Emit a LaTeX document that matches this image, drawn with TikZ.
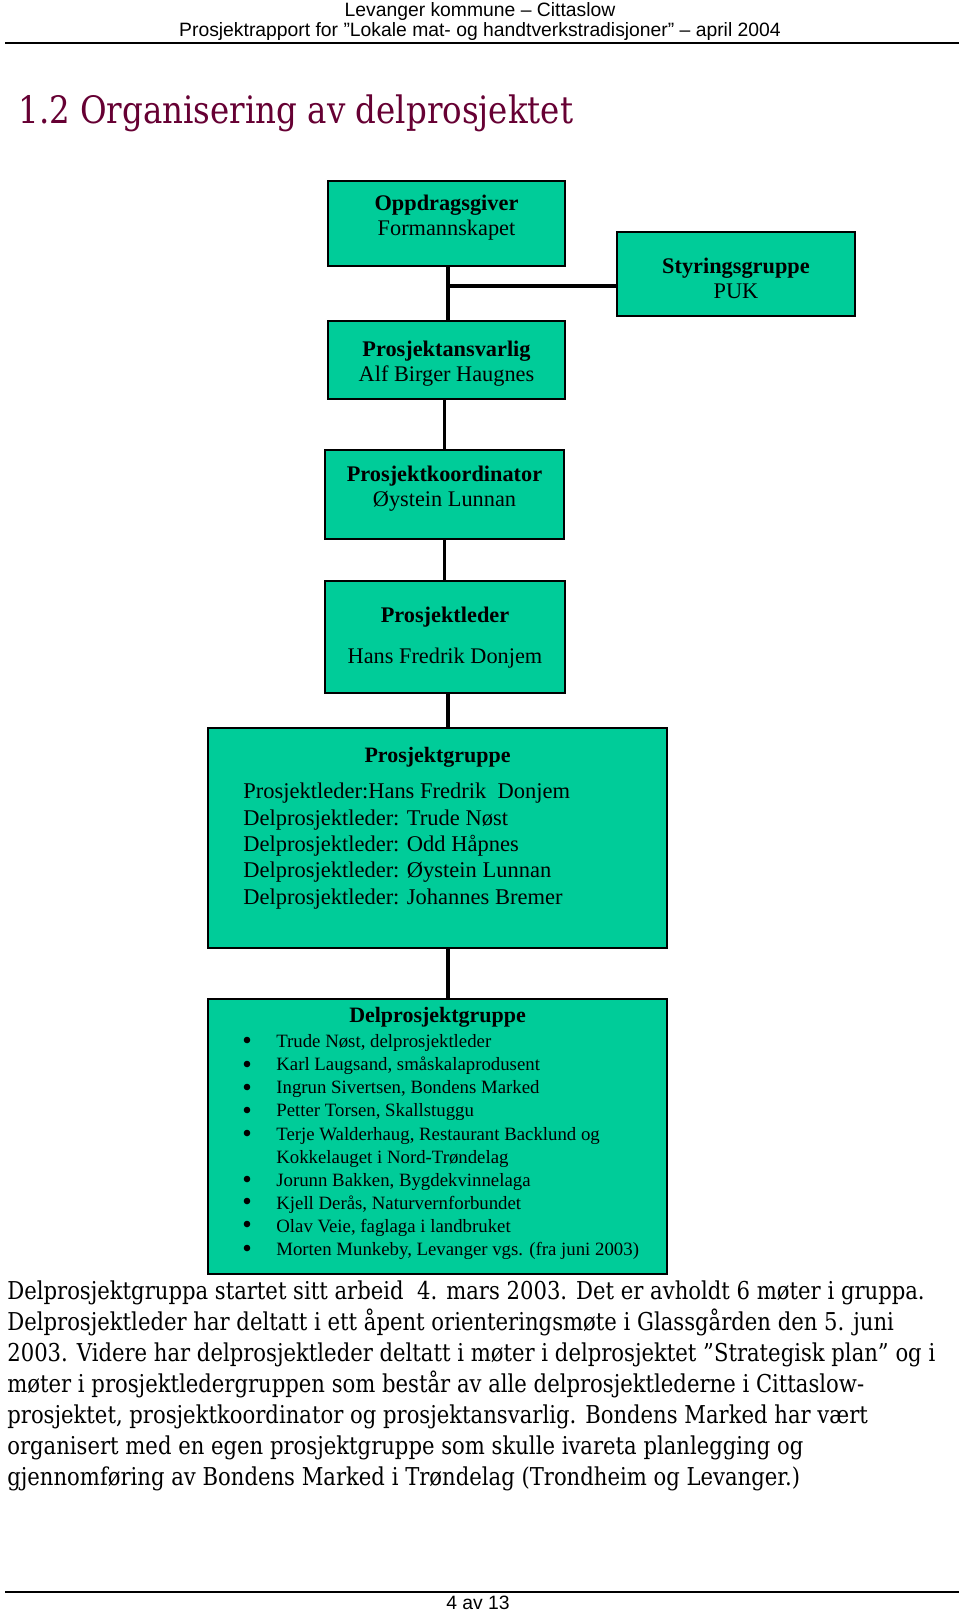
\documentclass[tikz,border=0pt]{standalone}
\usepackage{fontspec}
\setmainfont{Liberation Serif}
\newfontfamily\headfont{Liberation Sans}
\newfontfamily\bookfont[FakeStretch=0.86]{DejaVu Serif}
\usetikzlibrary{calc}
\definecolor{boxgreen}{RGB}{0,204,153}
\definecolor{titlered}{RGB}{102,0,51}

\begin{document}
\begin{tikzpicture}[x=0.02cm,y=-0.02cm,
  orgbox/.style={draw=black, line width=0.8pt, fill=boxgreen, inner sep=0pt},
  boxtext/.style={align=center, inner sep=0pt, font=\fontsize{12.7}{14.2}\selectfont},
  link/.style={line width=1.8pt}]
\useasboundingbox (0,0) rectangle (960,1611);

%header
\node (head1) [font=\headfont\fontsize{11}{13}\selectfont] at (480,12) {Levanger kommune – Cittaslow};
\node (head2) [font=\headfont\fontsize{11}{13}\selectfont] at (480,31.5) {Prosjektrapport for ”Lokale mat- og handtverkstradisjoner” – april 2004};
\draw [line width=1pt] (5,43) -- (959,43);
\node (title) [anchor=west, inner sep=0pt, text=titlered, font=\bookfont\fontsize{21.5}{26}\selectfont] at (18,113) {1.2 Organisering av delprosjektet};

%boxes
\node (opp) [orgbox, minimum width=4.74cm, minimum height=1.70cm] at (446.5,223.5) {};
\node (opptxt) [boxtext] at (446.5,217.5) {\textbf{Oppdragsgiver}\\Formannskapet};
\node (styr) [orgbox, minimum width=4.76cm, minimum height=1.68cm] at (736,274) {};
\node (styrtxt) [boxtext] at (736,278) {\textbf{Styringsgruppe}\\PUK};
\node (ansv) [orgbox, minimum width=4.74cm, minimum height=1.56cm] at (446.5,360) {};
\node (ansvtxt) [boxtext] at (446.5,363.5) {\textbf{Prosjektansvarlig}\\Alf Birger Haugnes};
\node (koord) [orgbox, minimum width=4.78cm, minimum height=1.78cm] at (444.5,494.5) {};
\node (koordtxt) [boxtext] at (444.5,489) {\textbf{Prosjektkoordinator}\\Øystein Lunnan};
\node (leder) [orgbox, minimum width=4.80cm, minimum height=2.24cm] at (445,637) {};
\node (ledertxt) [boxtext] at (445,637.5) {\textbf{Prosjektleder}\\[9pt]Hans Fredrik Donjem};

\node (pgr) [orgbox, minimum width=9.18cm, minimum height=4.40cm] at (437.5,838) {};
\node (pgrhead) [boxtext, font=\bfseries\fontsize{12.5}{14}\selectfont] at (437.5,757) {Prosjektgruppe};
\node (pgrlist) [anchor=west, align=left, inner sep=0pt, font=\fontsize{12.8}{15}\selectfont] at (243,846)
  {Prosjektleder:Hans Fredrik\ \ Donjem\\Delprosjektleder: Trude Nøst\\Delprosjektleder: Odd Håpnes\\Delprosjektleder: Øystein Lunnan\\Delprosjektleder: Johannes Bremer};

\node (dpgr) [orgbox, minimum width=9.18cm, minimum height=5.50cm] at (437.5,1136.5) {};
\node (dpgrhead) [boxtext, font=\bfseries\fontsize{12.5}{14}\selectfont] at (437.5,1017) {Delprosjektgruppe};
\node (dpgrlist) [anchor=west, align=left, inner sep=0pt, font=\fontsize{10.7}{13.1}\selectfont] at (276,1147)
  {Trude Nøst, delprosjektleder\\Karl Laugsand, småskalaprodusent\\Ingrun Sivertsen, Bondens Marked\\Petter Torsen, Skallstuggu\\Terje Walderhaug, Restaurant Backlund og\\Kokkelauget i Nord-Trøndelag\\Jorunn Bakken, Bygdekvinnelaga\\Kjell Derås, Naturvernforbundet\\Olav Veie, faglaga i landbruket\\Morten Munkeby, Levanger vgs. (fra juni 2003)};
\foreach \y in {1040,1064,1087,1110,1133,1179,1201,1224,1248}
  \fill (247,\y) circle (3.3);

%connectors
\coordinate (junc) at (448,286);
\draw [link] (junc |- opp.south) -- (junc |- ansv.north);
\draw [link] (junc) -- (junc -| styr.west);
\draw [link] (koord.north |- ansv.south) -- (koord.north);
\draw [link] (koord.south) -- (koord.south |- leder.north);
\draw [link] (junc |- leder.south) -- (junc |- pgr.north);
\draw [link] (junc |- pgr.south) -- (junc |- dpgr.north);

%text below
\node (body) [anchor=west, align=left, inner sep=0pt, font=\bookfont\fontsize{14}{17.7}\selectfont] at (7,1386)
  {Delprosjektgruppa startet sitt arbeid\ \ 4. mars 2003. Det er avholdt 6 møter i gruppa.\\
   Delprosjektleder har deltatt i ett åpent orienteringsmøte i Glassgården den 5. juni\\
   2003. Videre har delprosjektleder deltatt i møter i delprosjektet ”Strategisk plan” og i\\
   møter i prosjektledergruppen som består av alle delprosjektlederne i Cittaslow-\\
   prosjektet, prosjektkoordinator og prosjektansvarlig. Bondens Marked har vært\\
   organisert med en egen prosjektgruppe som skulle ivareta planlegging og\\
   gjennomføring av Bondens Marked i Trøndelag (Trondheim og Levanger.)};

%footer
\draw [line width=0.6pt] (5,1592) -- (959,1592);
\node (pagenr) [font=\headfont\fontsize{11}{13}\selectfont] at (478,1603) {4 av 13};
\end{tikzpicture}
\end{document}
